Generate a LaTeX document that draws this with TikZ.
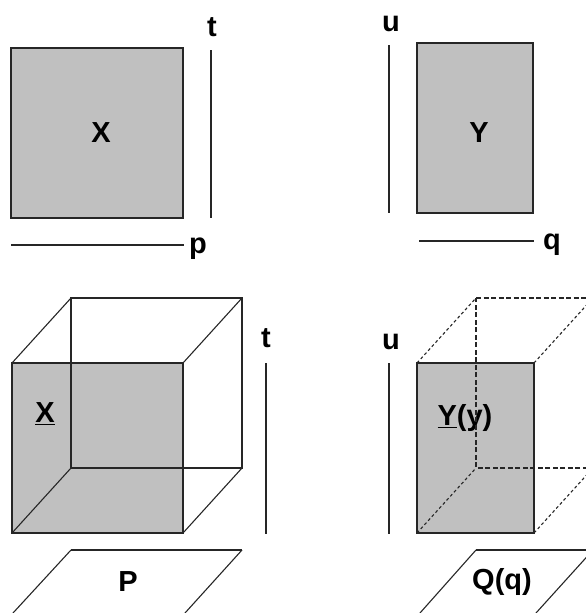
\documentclass[tikz,border=0pt]{standalone}
\usepackage{fontspec}
\setmainfont{Liberation Sans}
\begin{document}
\begin{tikzpicture}[
  x=1pt, y=-1pt,
  panel/.style={draw=black!85, line width=1.6pt, fill=panelgray},
  axis/.style={draw=black!85, line width=1.4pt},
  edge/.style={draw=black!85, line width=1.4pt},
  slant/.style={draw=black!85, line width=1.1pt},
  hidden/.style={draw=black!85, line width=1.3pt, dash pattern=on 5pt off 2.5pt},
  hiddenslant/.style={draw=black!85, line width=1.1pt, dash pattern=on 3pt off 2.5pt},
  lab/.style={font=\fontsize{29}{32}\selectfont\bfseries, text=black, inner sep=0pt},
]
\definecolor{panelgray}{HTML}{C0C0C0}
\useasboundingbox (0,0) rectangle (586,613);
\clip (0,0) rectangle (586,613);
% Fila superior
\coordinate (xa) at (11,48);
\coordinate (xb) at (183,218);
\coordinate (ya) at (417,43);
\coordinate (yb) at (533,213);
\path[panel] (xa) rectangle (xb);
\path[panel] (ya) rectangle (yb);
\node[lab] (xlab) at (101,133) {X};
\node[lab] (ylab) at (479,133) {Y};
% Ejes fila superior
\coordinate (ta1) at (211,50);
\coordinate (ta2) at (211,218);
\coordinate (pa1) at (11,245);
\coordinate (pa2) at (184,245);
\coordinate (ua1) at (389,45);
\coordinate (ua2) at (389,213);
\coordinate (qa1) at (419,241);
\coordinate (qa2) at (534,241);
\draw[axis] (ta1) -- (ta2);
\draw[axis] (pa1) -- (pa2);
\draw[axis] (ua1) -- (ua2);
\draw[axis] (qa1) -- (qa2);
\node[lab] (tlab) at (212,27) {t};
\node[lab] (plab) at (198,249) {p};
\node[lab] (ulab) at (391,24) {u};
\node[lab] (qlab) at (552,245) {q};
% Cubo izquierdo
\coordinate (f1) at (12,363);
\coordinate (f2) at (183,363);
\coordinate (f3) at (183,533);
\coordinate (f4) at (12,533);
\coordinate (b1) at (71,298);
\coordinate (b2) at (242,298);
\coordinate (b3) at (242,468);
\coordinate (b4) at (71,468);
\path[panel] (f1) rectangle (f3);
\draw[edge] (b1) -- (b2) -- (b3) -- (b4) -- cycle;
\foreach \i in {1,2,3,4}
  \draw[slant] (f\i) -- (b\i);
\node[lab] (xunder) at (45,414) {\underline{X}};
% Cubo derecho
\coordinate (g1) at (417,363);
\coordinate (g2) at (534,363);
\coordinate (g3) at (534,533);
\coordinate (g4) at (417,533);
\coordinate (c1) at (476,298);
\coordinate (c2) at (593,298);
\coordinate (c3) at (593,468);
\coordinate (c4) at (476,468);
\path[panel] (g1) rectangle (g3);
\node[lab] (yunder) at (465,418) {\underline{Y}(y)};
\draw[hidden] (c1) -- (c2) -- (c3) -- (c4) -- cycle;
\foreach \i in {1,2,3,4}
  \draw[hiddenslant] (g\i) -- (c\i);
% Ejes fila inferior
\coordinate (tb1) at (266,363);
\coordinate (tb2) at (266,534);
\coordinate (ub1) at (389,363);
\coordinate (ub2) at (389,534);
\draw[axis] (tb1) -- (tb2);
\draw[axis] (ub1) -- (ub2);
\node[lab] (tlow) at (266,338) {t};
\node[lab] (ulow) at (391,342) {u};
% Planos de abajo
\coordinate (pl1) at (71,550);
\coordinate (pl2) at (242,550);
\coordinate (pl3) at (185,613);
\coordinate (pl4) at (13,613);
\draw[slant] (pl4) -- (pl1);
\draw[edge] (pl1) -- (pl2);
\draw[slant] (pl2) -- (pl3);
\node[lab] (plow) at (128,582) {P};
\coordinate (ql1) at (476,550);
\coordinate (ql2) at (593,550);
\coordinate (ql3) at (536,613);
\coordinate (ql4) at (420,613);
\draw[slant] (ql4) -- (ql1);
\draw[edge] (ql1) -- (ql2);
\draw[slant] (ql2) -- (ql3);
\node[lab] (qlow) at (502,582) {Q(q)};
\end{tikzpicture}
\end{document}
